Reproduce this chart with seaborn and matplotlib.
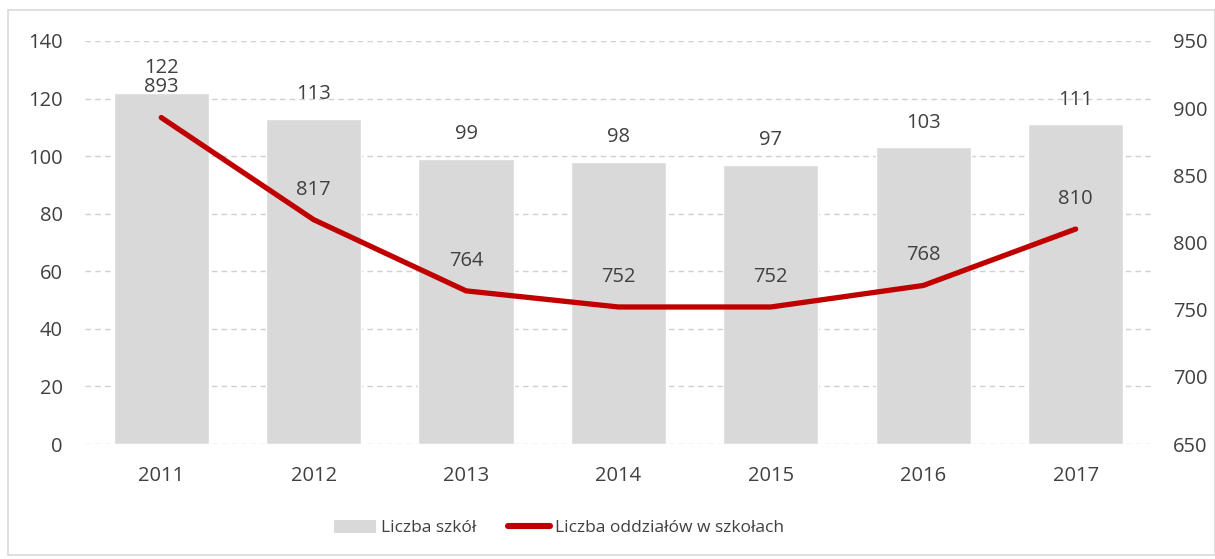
import matplotlib
matplotlib.use("Agg")
import matplotlib.pyplot as plt
import seaborn as sns
import pandas as pd
from matplotlib.patches import Rectangle
from matplotlib.lines import Line2D

years = ["2011", "2012", "2013", "2014", "2015", "2016", "2017"]
schools = [122, 113, 99, 98, 97, 103, 111]
classes = [893, 817, 764, 752, 752, 768, 810]

bar_color = "#D9D9D9"
line_color = "#C00000"
text_color = "#404040"
fs = 14.5
legend_fs = 12.5

sns.set_theme(style="white")
plt.rcParams["font.family"] = ["Open Sans", "DejaVu Sans"]

df = pd.DataFrame({"rok": years, "szkoly": schools, "oddzialy": classes})

fig = plt.figure(figsize=(12.15, 5.59), dpi=100)
ax = fig.add_axes([0.070, 0.2057, 0.878, 0.721])

sns.barplot(data=df, x="rok", y="szkoly", color=bar_color, width=0.625,
            saturation=1, ax=ax, zorder=2)
ax.set_ylim(0, 140)
ax.set_yticks(range(0, 141, 20))
ax.set_xlim(-0.5, len(years) - 0.5)
ax.grid(axis="y", color="#D0D0D0", linestyle=(0, (4, 3)), linewidth=1, zorder=0)
ax.set_axisbelow(True)
ax.set_xlabel("")
ax.set_ylabel("")
for s in ax.spines.values():
    s.set_visible(False)
ax.tick_params(axis="both", length=0, labelsize=fs, colors=text_color)
ax.tick_params(axis="y", pad=16)
ax.tick_params(axis="x", pad=16)

for i, v in enumerate(schools):
    ax.annotate(str(v), (i, v), xytext=(0, 10.5), textcoords="offset points",
                ha="center", va="bottom", fontsize=fs, color=text_color)

ax2 = ax.twinx()
sns.lineplot(x=list(range(len(years))), y=classes, color=line_color,
             linewidth=3.8, ax=ax2, solid_capstyle="round", zorder=3)
ax2.set_ylim(650, 950)
ax2.set_yticks(range(650, 951, 50))
ax2.set_xlim(-0.5, len(years) - 0.5)
for s in ax2.spines.values():
    s.set_visible(False)
ax2.tick_params(axis="y", length=0, labelsize=fs, colors=text_color, pad=15)
ax2.grid(False)

for i, v in enumerate(classes):
    ax2.annotate(str(v), (i, v), xytext=(0, 14.5), textcoords="offset points",
                 ha="center", va="bottom", fontsize=fs, color=text_color)

handles = [Rectangle((0, 0), 1, 1, facecolor=bar_color, edgecolor="none"),
           Line2D([0], [0], color=line_color, linewidth=4.4, solid_capstyle="round")]
fig.legend(handles, ["Liczba szkół", "Liczba oddziałów w szkołach"],
           loc="center", bbox_to_anchor=(0.46, 0.055), ncol=2, frameon=False,
           fontsize=legend_fs, labelcolor=text_color, handlelength=2.4,
           handleheight=0.75, handletextpad=0.3, columnspacing=1.85)

fig.patches.append(Rectangle((8 / 1215, 4 / 559), 1 - 8 / 1215, 1 - 14 / 559,
                             transform=fig.transFigure, fill=False,
                             edgecolor="#D9D9D9", linewidth=1.2))

fig.savefig("out.png", dpi=100, facecolor="white")
